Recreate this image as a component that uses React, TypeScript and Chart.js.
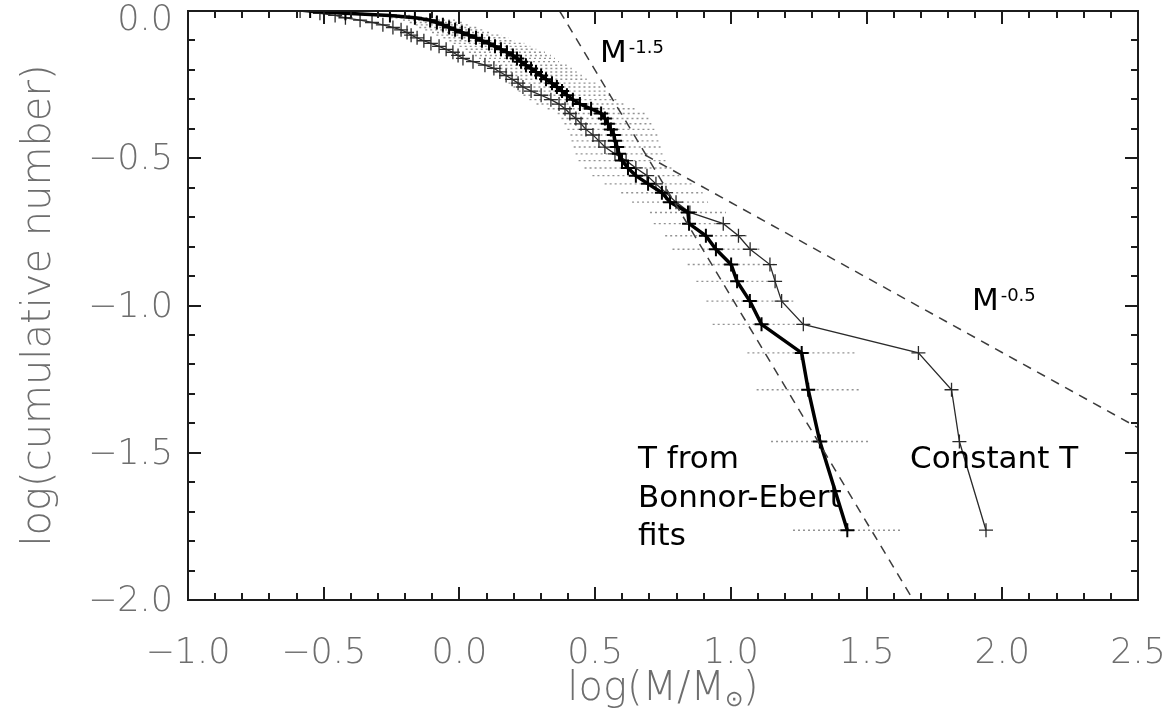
import { useEffect, useRef } from "react";
import { Chart, registerables } from "chart.js";

Chart.register(...registerables);

// log10 of the cumulative core fraction N(>M)/N, from the lightest core (0.0) to the heaviest
const cumulativeLog = [
  0.0, -0.008, -0.015, -0.023, -0.031, -0.039, -0.047, -0.056, -0.064, -0.073,
  -0.082, -0.091, -0.101, -0.11, -0.12, -0.13, -0.14, -0.151, -0.161, -0.172,
  -0.184, -0.195, -0.207, -0.219, -0.232, -0.245, -0.258, -0.272, -0.286, -0.301,
  -0.316, -0.332, -0.348, -0.365, -0.383, -0.402, -0.421, -0.441, -0.462, -0.485,
  -0.508, -0.533, -0.559, -0.587, -0.617, -0.649, -0.684, -0.722, -0.763, -0.809,
  -0.861, -0.918, -0.985, -1.064, -1.161, -1.286, -1.462, -1.763,
];

// log(M/Msun) with temperatures from the Bonnor-Ebert fits
const massBonnorEbert = [
  -0.55, -0.42, -0.256, -0.164, -0.108, -0.083, -0.061, -0.038, -0.016, 0.009,
  0.035, 0.061, 0.083, 0.109, 0.131, 0.153, 0.175, 0.197, 0.212, 0.227,
  0.245, 0.264, 0.282, 0.301, 0.319, 0.341, 0.359, 0.378, 0.396, 0.418,
  0.444, 0.485, 0.522, 0.536, 0.547, 0.558, 0.569, 0.573, 0.581, 0.588,
  0.599, 0.621, 0.65, 0.695, 0.746, 0.776, 0.842, 0.846, 0.908, 0.945,
  1.001, 1.023, 1.07, 1.113, 1.261, 1.285, 1.328, 1.429,
];

// half-width of the mass uncertainty for the Bonnor-Ebert masses (dex)
const massErrBonnorEbert = [
  0.06, 0.07, 0.08, 0.09, 0.1, 0.1, 0.1, 0.11, 0.11, 0.11,
  0.12, 0.12, 0.12, 0.13, 0.13, 0.13, 0.14, 0.14, 0.14, 0.14,
  0.15, 0.15, 0.15, 0.15, 0.15, 0.16, 0.16, 0.16, 0.16, 0.16,
  0.16, 0.16, 0.16, 0.16, 0.16, 0.16, 0.16, 0.16, 0.16, 0.16,
  0.16, 0.16, 0.16, 0.16, 0.15, 0.14, 0.14, 0.13, 0.15, 0.16,
  0.16, 0.15, 0.16, 0.18, 0.2, 0.19, 0.18, 0.2,
];

// log(M/Msun) assuming one constant temperature
const massConstantT = [
  -0.587, -0.514, -0.458, -0.42, -0.366, -0.322, -0.282, -0.245, -0.215, -0.193,
  -0.178, -0.156, -0.131, -0.105, -0.075, -0.049, -0.024, -0.005, 0.013, 0.05,
  0.094, 0.127, 0.149, 0.172, 0.194, 0.216, 0.234, 0.264, 0.301, 0.337,
  0.367, 0.389, 0.407, 0.429, 0.448, 0.466, 0.492, 0.514, 0.536, 0.573,
  0.614, 0.65, 0.691, 0.724, 0.761, 0.798, 0.849, 0.972, 1.028, 1.071,
  1.144, 1.163, 1.187, 1.267, 1.691, 1.813, 1.842, 1.94,
];

// reference power laws N(>M) ~ M^-1.5 and M^-0.5
const steepFitX = [0.369, 1.672];
const steepFitY = [0.0, -2.0];
const shallowFitX = [0.684, 2.5];
const shallowFitY = [-0.489, -1.415];

const xTickValues = [-1.0, -0.5, 0.0, 0.5, 1.0, 1.5, 2.0, 2.5];
const yTickValues = [-2.0, -1.5, -1.0, -0.5, 0.0];

const labelGrey = "#6e6e6e";
const axisFamily = "'DejaVu Sans', sans-serif";
const tickFont = { family: axisFamily, size: 35, weight: "300" as any };
const noteFont = "31px 'DejaVu Sans', sans-serif";

const fmt = (v: number) => v.toFixed(1).replace("-", "\u2212");

const pairs = (xs: number[], ys: number[]) => xs.map((x, i) => ({ x, y: ys[i] }));

const errorBarPoints = massBonnorEbert.flatMap((m, i) => [
  { x: m - massErrBonnorEbert[i], y: cumulativeLog[i] },
  { x: m + massErrBonnorEbert[i], y: cumulativeLog[i] },
  { x: m, y: null as number | null },
]);

// box, inward major/minor tick marks on all four sides, and the y tick labels
const framePlugin = {
  id: "frame",
  afterDatasetsDraw(chart: any) {
    const { ctx, chartArea: a, scales } = chart;
    const xs = scales.x;
    const ys = scales.y;
    ctx.save();
    ctx.strokeStyle = "#1c1c1c";
    ctx.lineWidth = 2;
    ctx.lineCap = "butt";
    ctx.strokeRect(a.left, a.top, a.right - a.left, a.bottom - a.top);
    ctx.beginPath();
    const xSteps = Math.round((xs.max - xs.min) / 0.1);
    for (let i = 0; i <= xSteps; i++) {
      const px = Math.round(xs.getPixelForValue(xs.min + i * 0.1));
      const len = i % 5 === 0 ? 13 : 7;
      ctx.moveTo(px, a.bottom);
      ctx.lineTo(px, a.bottom - len);
      ctx.moveTo(px, a.top);
      ctx.lineTo(px, a.top + len);
    }
    const ySteps = Math.round((ys.max - ys.min) / 0.1);
    for (let i = 0; i <= ySteps; i++) {
      const py = Math.round(ys.getPixelForValue(ys.min + i * 0.1));
      const len = i % 5 === 0 ? 13 : 7;
      ctx.moveTo(a.left, py);
      ctx.lineTo(a.left + len, py);
      ctx.moveTo(a.right, py);
      ctx.lineTo(a.right - len, py);
    }
    ctx.stroke();

    ctx.fillStyle = labelGrey;
    ctx.font = `300 35px ${axisFamily}`;
    ctx.textAlign = "right";
    ctx.textBaseline = "middle";
    for (const v of yTickValues) {
      const py = Math.max(ys.getPixelForValue(v) + 2, 21);
      ctx.fillText(fmt(v), a.left - 15, py);
    }
    ctx.restore();
  },
};

type Note = { lines: string[]; sup?: string; x: number; y: number };

const notes: Note[] = [
  { lines: ["M"], sup: "-1.5", x: 0.518, y: -0.173 },
  { lines: ["M"], sup: "-0.5", x: 1.888, y: -1.015 },
  { lines: ["T from", "Bonnor-Ebert", "fits"], x: 0.658, y: -1.552 },
  { lines: ["Constant T"], x: 1.66, y: -1.552 },
];

const notesPlugin = {
  id: "notes",
  afterDraw(chart: any) {
    const { ctx, scales, chartArea: a } = chart;
    ctx.save();
    ctx.fillStyle = "#000";
    ctx.textBaseline = "alphabetic";
    ctx.textAlign = "left";
    for (const n of notes) {
      const px = scales.x.getPixelForValue(n.x);
      const py = scales.y.getPixelForValue(n.y);
      ctx.font = noteFont;
      n.lines.forEach((t, i) => ctx.fillText(t, px, py + i * 38.5));
      if (n.sup) {
        const w = ctx.measureText(n.lines[0]).width;
        ctx.font = "18px 'DejaVu Sans', sans-serif";
        ctx.fillText(n.sup, px + w + 2, py - 9);
      }
    }
    // x-axis title with subscript solar symbol
    const cx = (a.left + a.right) / 2;
    const cy = 690;
    const big = `300 40px ${axisFamily}`;
    const small = `300 22px ${axisFamily}`;
    const p1 = "log(M/M";
    const p2 = "\u2299";
    const p3 = ")";
    ctx.font = big;
    const w1 = ctx.measureText(p1).width;
    const w3 = ctx.measureText(p3).width;
    ctx.font = small;
    const w2 = ctx.measureText(p2).width;
    let sx = cx - (w1 + w2 + w3) / 2;
    ctx.fillStyle = labelGrey;
    ctx.textBaseline = "middle";
    ctx.font = big;
    ctx.fillText(p1, sx, cy);
    sx += w1;
    ctx.font = small;
    ctx.fillText(p2, sx, cy + 10);
    sx += w2;
    ctx.font = big;
    ctx.fillText(p3, sx, cy);
    ctx.restore();
  },
};

export default function App() {
  const canvasRef = useRef<HTMLCanvasElement | null>(null);

  useEffect(() => {
    const canvas = canvasRef.current;
    if (!canvas) return;
    const chart = new Chart(canvas, {
      type: "line",
      data: {
        datasets: [
          {
            label: "M^-1.5",
            data: pairs(steepFitX, steepFitY),
            borderColor: "#3c3c3c",
            borderWidth: 1.5,
            borderDash: [9, 7],
            pointRadius: 0,
            order: 1,
          },
          {
            label: "M^-0.5",
            data: pairs(shallowFitX, shallowFitY),
            borderColor: "#3c3c3c",
            borderWidth: 1.5,
            borderDash: [9, 7],
            pointRadius: 0,
            order: 1,
          },
          {
            label: "T from Bonnor-Ebert fits",
            data: pairs(massBonnorEbert, cumulativeLog),
            borderColor: "#000",
            borderWidth: 3.5,
            pointStyle: "cross",
            pointRadius: 7,
            pointBorderWidth: 2,
            pointBorderColor: "#000",
            order: 2,
          },
          {
            label: "Constant T",
            data: pairs(massConstantT, cumulativeLog),
            borderColor: "#2a2a2a",
            borderWidth: 1.3,
            pointStyle: "cross",
            pointRadius: 7,
            pointBorderWidth: 1.3,
            pointBorderColor: "#2a2a2a",
            order: 3,
          },
          {
            label: "mass uncertainty",
            data: errorBarPoints,
            borderColor: "rgba(40,40,40,0.5)",
            borderWidth: 1.4,
            borderDash: [2, 3],
            pointRadius: 0,
            spanGaps: false,
            order: 4,
          },
        ],
      },
      options: {
        responsive: false,
        animation: false,
        events: [],
        layout: { padding: { top: 11, right: 30, left: 0, bottom: 0 } },
        elements: { line: { tension: 0 } },
        plugins: { legend: { display: false }, tooltip: { enabled: false } },
        scales: {
          x: {
            type: "linear",
            min: -1.0,
            max: 2.5,
            grid: { display: false, drawTicks: false },
            border: { display: false },
            afterBuildTicks: (s: any) => {
              s.ticks = xTickValues.map((v) => ({ value: v }));
            },
            afterFit: (s: any) => {
              s.height = 117;
              s.paddingLeft = 0;
              s.paddingRight = 0;
            },
            ticks: {
              color: labelGrey,
              font: tickFont,
              padding: 33,
              maxRotation: 0,
              autoSkip: false,
              callback: (v: any) => fmt(Number(v)),
            },
          },
          y: {
            type: "linear",
            min: -2.0,
            max: 0.0,
            grid: { display: false, drawTicks: false },
            border: { display: false },
            afterBuildTicks: (s: any) => {
              s.ticks = yTickValues.map((v) => ({ value: v }));
            },
            afterFit: (s: any) => {
              s.width = 188;
              s.paddingTop = 0;
              s.paddingBottom = 0;
            },
            title: {
              display: true,
              text: "log(cumulative number)",
              color: labelGrey,
              font: { family: axisFamily, size: 40, weight: "300" as any },
              padding: { top: 16, bottom: 0 },
            },
            ticks: { display: false },
          },
        },
      },
      plugins: [framePlugin, notesPlugin],
    });
    return () => chart.destroy();
  }, []);

  return (
    <div style={{ position: "absolute", left: 0, top: 0, width: 1168, height: 717, background: "#fff" }}>
      <canvas ref={canvasRef} width={1168} height={717} />
    </div>
  );
}
